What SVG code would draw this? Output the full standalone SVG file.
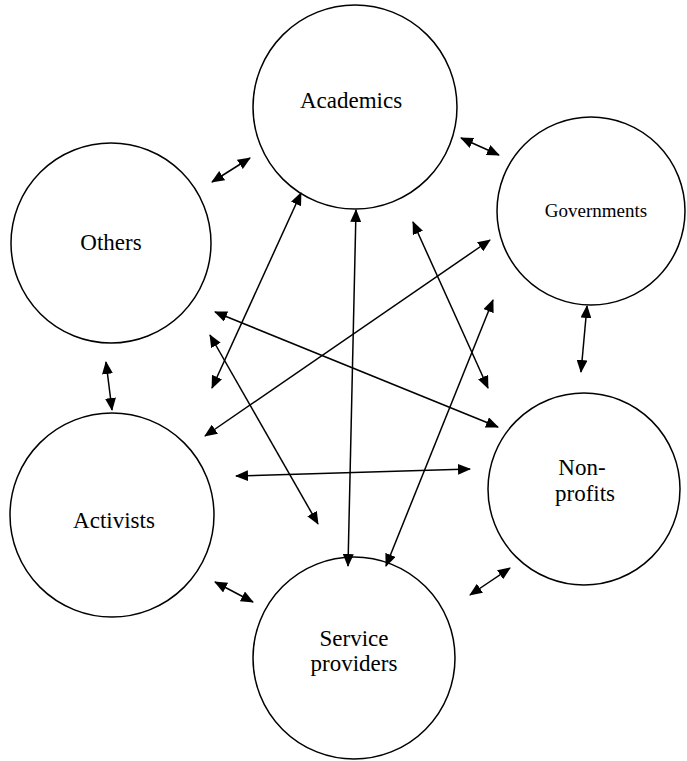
<svg xmlns="http://www.w3.org/2000/svg" width="687" height="761" viewBox="0 0 687 761">
<style>
.n{fill:none;stroke:#000;stroke-width:1.5}
text{font-family:'Liberation Serif', serif;font-size:23px;fill:#000;text-anchor:middle}
.c line{stroke:#000;stroke-width:1.5;marker-start:url(#a);marker-end:url(#a)}
</style>
<defs>
<marker id="a" viewBox="0 0 13 11" refX="12" refY="5.5" markerWidth="13" markerHeight="11" markerUnits="userSpaceOnUse" orient="auto-start-reverse">
<path d="M0,0L13,5.5L0,11z" fill="#000"/>
</marker>
</defs>
<rect width="687" height="761" fill="#fff"/>
<g id="academics"><circle class="n" cx="355" cy="107" r="102"/><text x="351" y="108" font-family="Liberation Serif, serif">Academics</text></g>
<g id="others"><circle class="n" cx="111" cy="243" r="100"/><text x="111" y="250" font-family="Liberation Serif, serif">Others</text></g>
<g id="governments"><circle class="n" cx="591" cy="211" r="94"/><text x="596" y="217" font-family="Liberation Serif, serif" style="font-size:19px">Governments</text></g>
<g id="nonprofits"><circle class="n" cx="584" cy="489" r="96"/><text x="582" y="475" font-family="Liberation Serif, serif">Non-</text><text x="585" y="501" font-family="Liberation Serif, serif">profits</text></g>
<g id="activists"><circle class="n" cx="112" cy="515" r="102"/><text x="114" y="528" font-family="Liberation Serif, serif">Activists</text></g>
<g id="serviceproviders"><circle class="n" cx="354" cy="658" r="101"/><text x="354" y="646" font-family="Liberation Serif, serif">Service</text><text x="354" y="671" font-family="Liberation Serif, serif">providers</text></g>
<g class="c" id="connectors">
<line x1="212" y1="182" x2="250" y2="158"/>
<line x1="461" y1="138" x2="499" y2="155"/>
<line x1="587" y1="306" x2="581" y2="372"/>
<line x1="106" y1="362" x2="112" y2="410"/>
<line x1="215" y1="582" x2="253" y2="602"/>
<line x1="470" y1="595" x2="510" y2="568"/>
<line x1="236" y1="476" x2="470" y2="469"/>
<line x1="301" y1="193" x2="212" y2="388"/>
<line x1="490" y1="240" x2="205" y2="436"/>
<line x1="215" y1="312" x2="498" y2="427"/>
<line x1="210" y1="335" x2="318" y2="524"/>
<line x1="356" y1="210" x2="348" y2="566"/>
<line x1="413" y1="222" x2="488" y2="388"/>
<line x1="493" y1="300" x2="386" y2="566"/>
</g>
</svg>
